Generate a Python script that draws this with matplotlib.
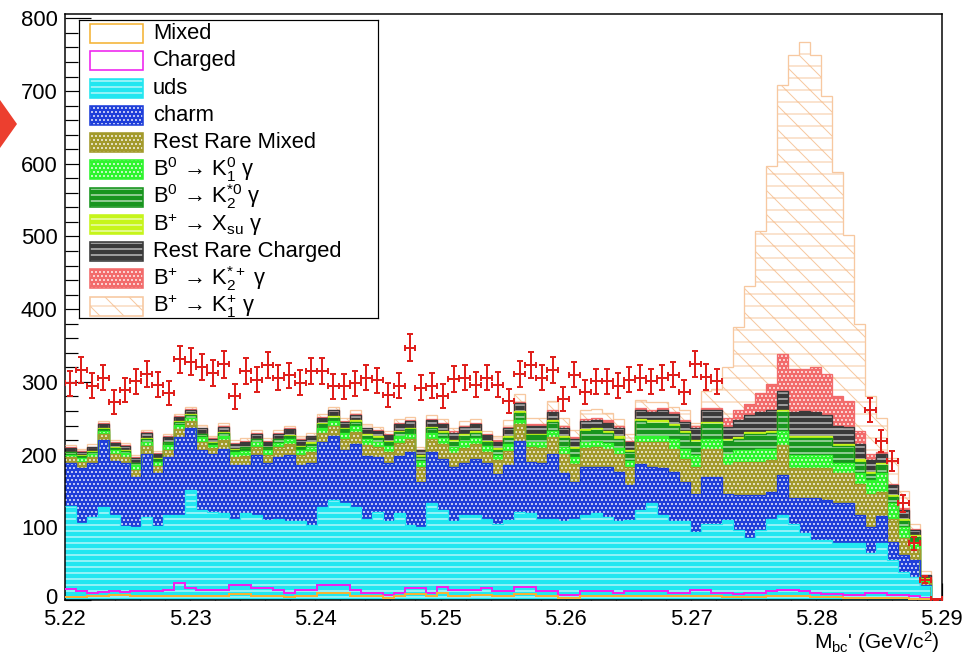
import numpy as np
import matplotlib
matplotlib.use("Agg")
import matplotlib.pyplot as plt
from matplotlib.patches import Rectangle, Polygon
from matplotlib.ticker import MultipleLocator, FormatStrFormatter
import matplotlib.transforms as mtransforms

plt.rcParams['font.family'] = ['Liberation Sans', 'DejaVu Sans']
plt.rcParams['mathtext.fontset'] = 'custom'
plt.rcParams['mathtext.rm'] = 'Liberation Sans'
plt.rcParams['mathtext.it'] = 'Liberation Sans:italic'
plt.rcParams['mathtext.bf'] = 'Liberation Sans:bold'
plt.rcParams['mathtext.default'] = 'regular'
plt.rcParams['hatch.linewidth'] = 1.0

# ---- binning -------------------------------------------------------------
x_lo, x_hi, n_bins = 5.22, 5.29, 80
edges = np.linspace(x_lo, x_hi, n_bins + 1)
centers = 0.5 * (edges[1:] + edges[:-1])

# ---- stacked MC components (bottom -> top), events per bin ---------------
mixed = [4, 4, 5, 5, 7, 7, 6, 5, 6, 5,
         6, 5, 6, 5, 6, 8, 8, 6, 6, 5,
         4, 6, 6, 10, 10, 10, 6, 5, 5, 3,
         5, 8, 8, 5, 9, 6, 6, 7, 7, 5,
         5, 8, 8, 6, 6, 3, 3, 6, 6, 6,
         5, 5, 5, 6, 6, 5, 5, 6, 6, 5,
         4, 4, 4, 4, 5, 5, 5, 5, 4, 4,
         4, 3, 3, 3, 3, 3, 3, 2, 1, 0]
charged = [11, 8, 5, 6, 5, 4, 7, 7, 6, 9,
           18, 11, 8, 9, 8, 13, 13, 10, 10, 9,
           6, 8, 8, 11, 11, 11, 8, 5, 5, 4,
           5, 8, 8, 5, 9, 8, 8, 7, 9, 7,
           7, 10, 10, 6, 6, 4, 4, 6, 6, 6,
           5, 7, 7, 6, 6, 5, 5, 8, 8, 5,
           6, 4, 6, 6, 7, 9, 9, 7, 6, 4,
           4, 4, 4, 7, 7, 4, 4, 3, 2, 0]
uds = [114, 94, 104, 117, 105, 91, 88, 102, 90, 103,
       93, 135, 110, 107, 105, 91, 99, 101, 94, 98,
       98, 94, 89, 107, 116, 112, 114, 102, 111, 101,
       109, 87, 85, 123, 106, 94, 103, 103, 96, 93,
       98, 103, 101, 100, 100, 101, 105, 105, 107, 102,
       98, 98, 112, 121, 105, 98, 98, 80, 91, 95,
       100, 88, 75, 86, 100, 103, 91, 80, 72, 74,
       70, 71, 71, 54, 68, 48, 32, 27, 16, 0]
charm = [59, 75, 74, 92, 74, 86, 68, 87, 72, 79,
         107, 85, 82, 80, 89, 73, 65, 82, 78, 85,
         92, 77, 85, 89, 88, 73, 87, 86, 76, 80,
         79, 101, 61, 71, 70, 75, 71, 77, 76, 68,
         75, 98, 71, 76, 89, 67, 50, 66, 64, 69,
         68, 48, 63, 50, 64, 68, 54, 52, 64, 64,
         36, 48, 59, 48, 37, 55, 35, 48, 58, 56,
         55, 55, 39, 37, 37, 25, 23, 23, 2, 0]
rest_rare_mixed = [8, 9, 8, 8, 10, 9, 10, 11, 10, 11,
                   11, 10, 12, 8, 12, 12, 13, 12, 12, 13,
                   14, 14, 15, 13, 14, 16, 16, 15, 14, 16,
                   18, 17, 21, 18, 20, 19, 21, 20, 16, 19,
                   20, 23, 20, 21, 23, 26, 25, 26, 27, 25,
                   25, 25, 30, 34, 36, 32, 32, 37, 39, 39,
                   39, 46, 46, 46, 43, 41, 41, 41, 41, 43,
                   41, 41, 43, 45, 34, 32, 23, 15, 3, 0]
b0_k1_0 = [4, 5, 5, 4, 5, 5, 6, 6, 6, 6,
           6, 5, 6, 4, 6, 6, 7, 6, 6, 6,
           7, 7, 7, 7, 7, 8, 8, 8, 7, 8,
           9, 8, 8, 8, 9, 9, 10, 9, 8, 8,
           9, 6, 8, 8, 9, 9, 9, 9, 9, 8,
           8, 8, 8, 8, 8, 14, 14, 16, 14, 14,
           16, 16, 16, 18, 16, 20, 18, 18, 18, 18,
           14, 14, 14, 19, 25, 21, 16, 10, 4, 0]
b0_k2_0 = [3, 3, 3, 3, 3, 3, 3, 4, 4, 4,
           4, 4, 4, 3, 4, 4, 5, 4, 4, 5,
           5, 5, 5, 5, 5, 5, 6, 5, 5, 5,
           6, 6, 6, 6, 7, 7, 7, 7, 5, 7,
           9, 9, 9, 10, 12, 13, 12, 14, 15, 14,
           13, 12, 21, 19, 19, 17, 22, 18, 20, 20,
           18, 15, 22, 20, 22, 25, 24, 24, 24, 24,
           24, 24, 16, 8, 11, 8, 8, 7, 1, 0]
bp_xsu = [1, 1, 1, 1, 1, 1, 1, 1, 1, 1,
          1, 1, 1, 1, 1, 1, 1, 1, 1, 1,
          1, 1, 2, 1, 2, 2, 2, 2, 2, 2,
          2, 2, 2, 2, 2, 2, 2, 2, 2, 2,
          2, 3, 2, 2, 3, 3, 3, 3, 3, 3,
          3, 3, 3, 3, 3, 3, 3, 3, 3, 3,
          3, 3, 3, 3, 3, 3, 3, 3, 3, 3,
          3, 3, 4, 3, 3, 3, 3, 2, 1, 0]
rest_rare_charged = [5, 5, 5, 6, 6, 6, 6, 7, 6, 6,
                     6, 6, 7, 5, 7, 7, 7, 7, 7, 7,
                     8, 8, 8, 8, 8, 8, 8, 8, 8, 8,
                     9, 9, 7, 9, 10, 10, 10, 10, 8, 9,
                     11, 11, 11, 11, 11, 11, 11, 11, 11, 11,
                     11, 11, 12, 12, 14, 14, 12, 16, 16, 16,
                     16, 23, 23, 27, 29, 27, 32, 34, 32, 29,
                     25, 23, 21, 16, 13, 14, 12, 7, 4, 0]
bp_k2s = [1, 1, 1, 1, 1, 1, 1, 1, 1, 1,
          1, 1, 1, 1, 1, 1, 1, 1, 1, 1,
          1, 1, 1, 1, 1, 1, 1, 1, 1, 1,
          2, 1, 1, 2, 2, 2, 2, 2, 1, 2,
          2, 2, 2, 2, 2, 2, 2, 3, 3, 3,
          3, 2, 3, 3, 3, 3, 3, 3, 3, 3,
          12, 15, 16, 27, 35, 50, 60, 58, 62, 56,
          41, 36, 18, 9, 3, 2, 2, 2, 1, 0]
bp_k1 = [3, 3, 3, 3, 3, 3, 3, 3, 3, 3,
         3, 3, 4, 2, 4, 4, 4, 4, 4, 4,
         4, 4, 4, 4, 4, 5, 5, 5, 4, 5,
         5, 5, 4, 5, 5, 5, 6, 5, 5, 5,
         10, 10, 9, 9, 13, 12, 10, 12, 12, 10,
         10, 10, 11, 10, 8, 7, 13, 4, 23, 26,
         70, 113, 162, 222, 300, 371, 432, 450, 430, 382,
         307, 228, 147, 79, 46, 35, 24, 7, 5, 0]

# ---- data (signal window blinded) ----------------------------------------
nan = np.nan
data = [298, 316, 295, 306, 273, 289, 301, 311, 296, 285,
        331, 328, 320, 312, 324, 280, 315, 303, 323, 306,
        309, 299, 315, 315, 294, 294, 298, 306, 302, 282,
        295, 347, 292, 295, 281, 304, 306, 296, 306, 296,
        274, 311, 323, 306, 316, 277, 310, 286, 301, 301,
        295, 303, 306, 301, 306, 310, 286, 325, 307, 301,
        nan, nan, nan, nan, nan, nan, nan, nan, nan, nan,
        nan, nan, nan, 261, 219, 191, 133, 78, 28, 1]

# ---- styles ----------------------------------------------------------------
labels = ['Mixed', 'Charged', 'uds', 'charm', 'Rest Rare Mixed',
          'B$^{0}$ → K$_{1}^{0}$ γ', 'B$^{0}$ → K$_{2}^{*0}$ γ',
          'B$^{+}$ → X$_{su}$ γ', 'Rest Rare Charged',
          'B$^{+}$ → K$_{2}^{*+}$ γ', 'B$^{+}$ → K$_{1}^{+}$ γ']
series = [mixed, charged, uds, charm, rest_rare_mixed, b0_k1_0, b0_k2_0,
          bp_xsu, rest_rare_charged, bp_k2s, bp_k1]
colors = ['#f5b335', '#ee22ee', '#22e6f0', '#1f3fd9', '#a39a2c', '#2ef52e',
          '#18951e', '#c6f51a', '#3a3a3a', '#f26b6b', '#f7c8a0']
hatches = [None, None, '--', '...', '...', '...', '--', '--', '--', '...', '\\-']
filled = [False, False, True, True, True, True, True, True, True, True, False]

DPI = 72
W, H = 972, 655
fig = plt.figure(figsize=(W / DPI, H / DPI), dpi=DPI)
fig.patch.set_facecolor('white')
AX_L, AX_R, AX_T, AX_B = 64.7, 941.7, 14.0, 600.0
ax = fig.add_axes([AX_L / W, (H - AX_B) / H, (AX_R - AX_L) / W, (AX_B - AX_T) / H])

cum = np.cumsum(np.array(series, dtype=float), axis=0)

# fills: uds shows through the hollow Mixed/Charged outlines, so it starts at 0
for i in range(2, len(series)):
    base = np.zeros(n_bins) if i == 2 else cum[i - 1]
    if filled[i]:
        ax.stairs(cum[i], edges, baseline=base, fill=True, facecolor=colors[i],
                  edgecolor='white', hatch=hatches[i], linewidth=0, zorder=2)
    else:
        ax.stairs(cum[i], edges, baseline=base, fill=True, facecolor='none',
                  edgecolor=colors[i], hatch=hatches[i], linewidth=0, zorder=2)

# outlines, top of stack first so the lower ones end up on top
for i in range(len(series) - 1, -1, -1):
    lw = 2.0 if i < 2 else 1.3
    ax.stairs(cum[i], edges, baseline=None, fill=False, color=colors[i],
              linewidth=lw, zorder=3)

# data points
d = np.array(data, dtype=float)
ok = ~np.isnan(d)
half_w = 0.5 * (edges[1] - edges[0])
ax.errorbar(centers[ok], d[ok], xerr=half_w, yerr=np.sqrt(d[ok]), fmt='none',
            ecolor='#e0201c', elinewidth=2, capsize=3, capthick=2, zorder=5)

# axes styling
ax.set_xlim(x_lo, x_hi)
ax.set_ylim(0, 806)
ax.xaxis.set_major_locator(MultipleLocator(0.01))
ax.xaxis.set_minor_locator(MultipleLocator(0.002))
ax.xaxis.set_major_formatter(FormatStrFormatter('%.2f'))
ax.yaxis.set_major_locator(MultipleLocator(100))
ax.yaxis.set_minor_locator(MultipleLocator(20))
ax.tick_params(which='both', direction='in', top=False, right=False,
               labelsize=22, width=1.2, colors='black')
ax.tick_params(axis='y', which='major', length=26, pad=7)
ax.tick_params(axis='y', which='minor', length=13)
ax.tick_params(axis='x', which='major', length=17, pad=9)
ax.tick_params(axis='x', which='minor', length=9)
for s in ax.spines.values():
    s.set_linewidth(1.5)

# the bottom "0" sits a little above the axis so it clears the x labels
for lab in ax.get_yticklabels():
    if lab.get_text() in ('0', '−0'):
        lab.set_transform(lab.get_transform() +
                          mtransforms.ScaledTranslation(0, 4 / DPI, fig.dpi_scale_trans))
ax.yaxis.get_major_ticks()[0].label1.set_transform(
    ax.yaxis.get_major_ticks()[0].label1.get_transform() +
    mtransforms.ScaledTranslation(0, 3 / DPI, fig.dpi_scale_trans))

fig.text(940 / W, (H - 649) / H, "M$_{bc}$' (GeV/c$^{2}$)", ha='right',
         va='baseline', fontsize=21)

# legend box drawn in its own pixel-unit axes
LG_L, LG_T, LG_R, LG_B = 79, 20, 378, 318
lg = fig.add_axes([LG_L / W, (H - LG_B) / H, (LG_R - LG_L) / W, (LG_B - LG_T) / H])
lg.set_xlim(0, LG_R - LG_L)
lg.set_ylim(LG_B - LG_T, 0)
lg.set_xticks([])
lg.set_yticks([])
lg.set_facecolor('white')
for s in lg.spines.values():
    s.set_linewidth(1.2)
    s.set_color('black')
for i, lab in enumerate(labels):
    yc = 13.5 + 27.25 * i
    x0, bw, bh = 11, 53, 19
    if filled[i]:
        lg.add_patch(Rectangle((x0, yc - bh / 2), bw, bh, facecolor=colors[i],
                               edgecolor='white', hatch=hatches[i], linewidth=0))
    elif hatches[i]:
        lg.add_patch(Rectangle((x0, yc - bh / 2), bw, bh, facecolor='none',
                               edgecolor=colors[i], hatch=hatches[i], linewidth=0))
    lg.add_patch(Rectangle((x0, yc - bh / 2), bw, bh, facecolor='none',
                           edgecolor=colors[i], linewidth=1.6))
    lg.text(74, yc, lab, va='center', ha='left', fontsize=22)

# red marker at the left margin
fig.add_artist(Polygon([[0, (H - 100) / H], [17 / W, (H - 124) / H], [0, (H - 148) / H]],
                       closed=True, transform=fig.transFigure,
                       facecolor='#ec3f2f', edgecolor='none'))

fig.savefig('out.png', dpi=DPI, facecolor='white')
